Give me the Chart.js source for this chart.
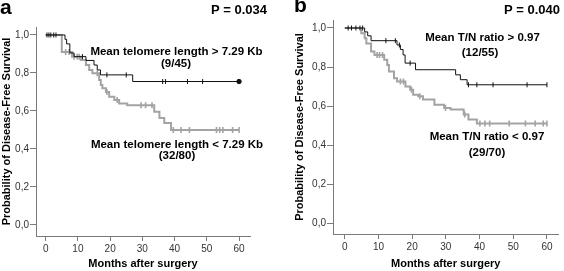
<!DOCTYPE html>
<html>
<head>
<meta charset="utf-8">
<script src="https://cdn.jsdelivr.net/npm/chart.js@4"></script>
<style>
  html, body { margin: 0; padding: 0; background: #fff; }
  #wrap { position: relative; width: 564px; height: 271px; overflow: hidden; }
  .panel { position: absolute; top: 0; width: 282px; height: 271px; }
  #panelA { left: 0; }
  #panelB { left: 282px; }
</style>
</head>
<body>
<div id="wrap">
  <div class="panel" id="panelA"><canvas id="chartA" width="282" height="271"></canvas></div>
  <div class="panel" id="panelB"><canvas id="chartB" width="282" height="271"></canvas></div>
</div>
<script>
// tick labels
const monthTicks = [0, 10, 20, 30, 40, 50, 60];
const survTicks = [0, 0.2, 0.4, 0.6, 0.8, 1.0];

// panel a - mean telomere length > 7.29 Kb (9/45)
const aHighTimes = [0, 6, 6.5, 7.5, 8.8, 12.5, 15, 16, 17, 27, 60];
const aHighSurv  = [1.0, 0.977, 0.953, 0.905, 0.886, 0.866, 0.842, 0.816, 0.79, 0.755, 0.755];
const aHighCens  = [0.4, 1, 1.6, 2.5, 3.2, 11.4, 19, 25, 36.3, 37.2, 44, 48.7];
const aHighEnd   = [60];

// panel a - mean telomere length < 7.29 Kb (32/80)
const aLowTimes = [0, 5, 8.2, 10.9, 12.5, 13.5, 14.5, 16.6, 17.1, 17.6, 18.7, 19.7, 21.3, 22.8, 25.3, 33.7, 35.3, 36.8, 38.9, 60];
const aLowSurv  = [1.0, 0.91, 0.886, 0.868, 0.842, 0.816, 0.798, 0.763, 0.737, 0.72, 0.70, 0.675, 0.658, 0.64, 0.63, 0.596, 0.563, 0.537, 0.50, 0.50];
const aLowCens  = [6.2, 7.3, 8.8, 9.8, 10.4, 16, 19, 22.2, 29.6, 31, 33, 39.6, 42, 44.6, 53, 54, 55, 58, 60];

// panel b - mean T/N ratio > 0.97 (12/55)
const bHighTimes = [0, 5.9, 6.8, 7.8, 15.5, 16.5, 17.3, 17.9, 21, 32.9, 34.3, 36.3, 60];
const bHighSurv  = [1.0, 0.98, 0.96, 0.935, 0.913, 0.89, 0.862, 0.82, 0.786, 0.76, 0.735, 0.709, 0.709];
const bHighCens  = [1, 2, 3.3, 4.5, 5.3, 12.2, 15, 16.2, 19.4, 36.7, 39.2, 44, 54.1, 60];

// panel b - mean T/N ratio < 0.97 (29/70)
const bLowTimes = [0, 4.9, 5.9, 6.4, 7.8, 8.8, 11.7, 12.6, 13.1, 14.6, 15.5, 18, 19.4, 20.3, 21.8, 23.2, 26.6, 29.5, 31.4, 35.3, 36.7, 39.2, 60];
const bLowSurv  = [1.0, 0.973, 0.947, 0.92, 0.879, 0.862, 0.837, 0.81, 0.777, 0.743, 0.726, 0.70, 0.684, 0.658, 0.65, 0.633, 0.607, 0.59, 0.582, 0.556, 0.531, 0.51, 0.51];
const bLowCens  = [9.6, 10.3, 11.2, 16.5, 17.4, 19.8, 22.3, 29.9, 35.6, 40.1, 41.6, 43, 48.8, 53.6, 56.5, 58.9, 60];

Chart.defaults.font.family = "'Liberation Sans', Arial, sans-serif";
Chart.defaults.color = "#333";

const BLACK = "#111";
const GRAY = "#a3a3a3";
const AXIS = "#7a7a7a";

function curve(times, surv) {
  return times.map((t, i) => ({ x: t, y: surv[i] }));
}

// value of the KM step function at time t
function survAt(times, surv, t) {
  let v = surv[0];
  for (let i = 0; i < times.length; i++) {
    if (times[i] <= t) v = surv[i];
  }
  return v;
}

function censors(cens, times, surv) {
  return cens.map(t => ({ x: t, y: survAt(times, surv, t) }));
}

const textPlugin = {
  id: "panelText",
  afterDraw(chart, args, opts) {
    const ctx = chart.ctx;
    ctx.save();
    ctx.fillStyle = "#000";
    ctx.textBaseline = "middle";
    opts.items.forEach(it => {
      ctx.font = "bold " + it.size + "px 'Liberation Sans', Arial, sans-serif";
      ctx.textAlign = it.align || "center";
      ctx.fillText(it.text, it.x, it.y);
    });
    ctx.restore();
  }
};

function makeChart(id, cfg) {
  return new Chart(document.getElementById(id), {
    type: "scatter",
    data: {
      datasets: [
        {
          data: cfg.highEnd ? cfg.highEnd.map(t => ({ x: t, y: survAt(cfg.highTimes, cfg.highSurv, t) })) : [],
          pointStyle: "circle",
          pointRadius: 2.2,
          backgroundColor: BLACK,
          borderColor: BLACK,
          showLine: false,
          order: 0
        },
        {
          data: censors(cfg.highCens, cfg.highTimes, cfg.highSurv),
          pointStyle: "line",
          rotation: 90,
          pointRadius: 2.5,
          borderWidth: 1,
          borderColor: BLACK,
          showLine: false,
          order: 1
        },
        {
          data: curve(cfg.highTimes, cfg.highSurv),
          showLine: true,
          stepped: true,
          borderColor: BLACK,
          borderWidth: 1,
          pointRadius: 0,
          order: 2
        },
        {
          data: censors(cfg.lowCens, cfg.lowTimes, cfg.lowSurv),
          pointStyle: "line",
          rotation: 90,
          pointRadius: 3,
          borderWidth: 1.6,
          borderColor: GRAY,
          showLine: false,
          order: 3
        },
        {
          data: curve(cfg.lowTimes, cfg.lowSurv),
          showLine: true,
          stepped: true,
          borderColor: GRAY,
          borderWidth: 2,
          pointRadius: 0,
          order: 4
        }
      ]
    },
    options: {
      responsive: false,
      animation: false,
      events: [],
      layout: { padding: cfg.padding },
      plugins: {
        legend: { display: false },
        tooltip: { enabled: false },
        panelText: { items: cfg.texts }
      },
      scales: {
        x: {
          type: "linear",
          min: cfg.xMin,
          max: cfg.xMax,
          afterBuildTicks: s => { s.ticks = monthTicks.map(v => ({ value: v })); },
          afterFit: s => { s.height = cfg.xHeight; },
          grid: { drawOnChartArea: false, drawTicks: true, tickLength: 5, color: AXIS },
          border: { display: true, color: AXIS, width: 1 },
          ticks: { font: { size: 10 }, padding: 2, maxRotation: 0 },
          title: {
            display: true,
            text: "Months after surgery",
            color: "#000",
            font: { size: 11, weight: "bold" },
            padding: { top: 0, bottom: 0 }
          }
        },
        y: {
          type: "linear",
          min: cfg.yMin,
          max: cfg.yMax,
          afterBuildTicks: s => { s.ticks = survTicks.map(v => ({ value: v })); },
          afterFit: s => { s.width = cfg.yWidth; },
          grid: { drawOnChartArea: false, drawTicks: true, tickLength: cfg.yTick, color: AXIS },
          border: { display: true, color: AXIS, width: 1 },
          ticks: {
            font: { size: 10 },
            padding: 1,
            callback: v => v.toFixed(1).replace(".", ",")
          },
          title: {
            display: true,
            text: "Probability of Disease-Free Survival",
            color: "#000",
            font: { size: 11, weight: "bold" },
            padding: { top: cfg.yTitlePad, bottom: 0 }
          }
        }
      }
    },
    plugins: [textPlugin]
  });
}

makeChart("chartA", {
  highTimes: aHighTimes, highSurv: aHighSurv, highCens: aHighCens, highEnd: aHighEnd,
  lowTimes: aLowTimes, lowSurv: aLowSurv, lowCens: aLowCens,
  xMin: -3, xMax: 63.4, yMin: -0.058, yMax: 1.042,
  padding: { left: 0, top: 27, right: 32, bottom: 0 },
  xHeight: 35, yWidth: 36, yTick: 6, yTitlePad: 0,
  texts: [
    { text: "a", x: 0, y: 8, size: 21, align: "left" },
    { text: "P = 0.034", x: 267, y: 10, size: 13, align: "right" },
    { text: "Mean telomere length > 7.29 Kb", x: 176.5, y: 52, size: 11.5 },
    { text: "(9/45)", x: 176, y: 63.5, size: 11.5 },
    { text: "Mean telomere length < 7.29 Kb", x: 177, y: 145, size: 11.5 },
    { text: "(32/80)", x: 177, y: 156, size: 11.5 }
  ]
});

makeChart("chartB", {
  highTimes: bHighTimes, highSurv: bHighSurv, highCens: bHighCens, highEnd: null,
  lowTimes: bLowTimes, lowSurv: bLowSurv, lowCens: bLowCens,
  xMin: -3.5, xMax: 63.4, yMin: -0.056, yMax: 1.041,
  padding: { left: 0, top: 20, right: 0, bottom: 0 },
  xHeight: 37, yWidth: 51, yTick: 6, yTitlePad: 11,
  texts: [
    { text: "b", x: 12, y: 6, size: 21, align: "left" },
    { text: "P = 0.040", x: 278, y: 10, size: 13, align: "right" },
    { text: "Mean T/N ratio > 0.97", x: 200.5, y: 38, size: 11.5 },
    { text: "(12/55)", x: 198, y: 53, size: 11.5 },
    { text: "Mean T/N ratio < 0.97", x: 205, y: 137, size: 11.5 },
    { text: "(29/70)", x: 205, y: 153, size: 11.5 }
  ]
});
</script>
</body>
</html>
